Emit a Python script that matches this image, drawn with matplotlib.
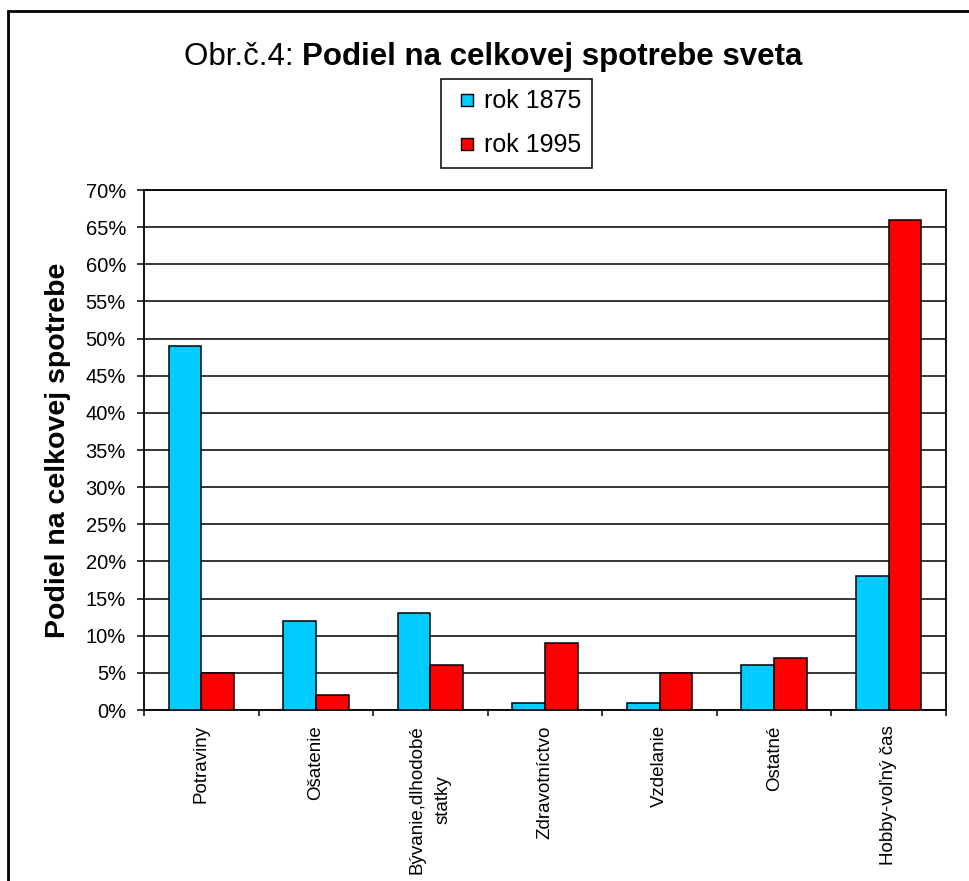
import numpy as np
import matplotlib
matplotlib.use("Agg")
import matplotlib.pyplot as plt
from matplotlib.patches import Rectangle
from matplotlib.lines import Line2D
from matplotlib.ticker import FuncFormatter, FixedLocator

plt.rcParams["font.family"] = ["Liberation Sans", "DejaVu Sans"]

categories = [
    "Potraviny",
    "Ošatenie",
    "Bývanie,dlhodobé\nstatky",
    "Zdravotníctvo",
    "Vzdelanie",
    "Ostatné",
    "Hobby-voľný čas",
]
rok_1875 = [0.49, 0.12, 0.13, 0.01, 0.01, 0.06, 0.18]
rok_1995 = [0.05, 0.02, 0.06, 0.09, 0.05, 0.07, 0.66]
series_labels = ["rok 1875", "rok 1995"]
colors = ["#00CCFF", "#FF0000"]

W, H = 970, 881
fig = plt.figure(figsize=(W / 100, H / 100), dpi=100)
ax = fig.add_axes([144 / W, 1 - 710 / H, (946 - 144) / W, (710 - 190) / H])

x = np.arange(len(categories))
w = 1 / 3.5
ax.bar(x - w / 2, rok_1875, w, color=colors[0], edgecolor="black", linewidth=1.1, zorder=3)
ax.bar(x + w / 2, rok_1995, w, color=colors[1], edgecolor="black", linewidth=1.1, zorder=3)

ax.set_xlim(-0.5, len(categories) - 0.5)
ax.set_ylim(0, 0.70)
ax.set_yticks(np.arange(0, 0.701, 0.05))
ax.yaxis.set_major_formatter(FuncFormatter(lambda v, p: f"{round(v * 100)}%"))
ax.yaxis.grid(True, color="black", linewidth=1.1)
ax.set_axisbelow(True)

# category separators as major ticks, names on minor ticks
ax.xaxis.set_major_locator(FixedLocator(np.arange(-0.5, len(categories), 1.0)))
ax.xaxis.set_major_formatter(FuncFormatter(lambda v, p: ""))
ax.set_xticks(x, minor=True)
ax.set_xticklabels(categories, minor=True, rotation=90, fontsize=13.5,
                   va="top", ha="center", multialignment="center", linespacing=1.7)
ax.tick_params(axis="x", which="minor", length=0, pad=11)
ax.tick_params(axis="x", which="major", length=4.5, width=1.1, direction="out")
ax.tick_params(axis="y", length=5, width=1.1, direction="out", labelsize=14.5, pad=8)

for s in ax.spines.values():
    s.set_linewidth(1.3)

ax.set_ylabel("Podiel na celkovej spotrebe", fontsize=20.5, fontweight="bold")
ax.yaxis.set_label_coords(-0.091, 0.5)

handles = [Line2D([], [], linestyle="none", marker="s", markersize=8.6,
                  markerfacecolor=c, markeredgecolor="black", markeredgewidth=1)
           for c in colors]
leg = fig.legend(handles, series_labels, loc="upper left",
                 bbox_to_anchor=(441 / W, 1 - 79 / H), fontsize=18,
                 handlelength=1.22, handletextpad=0.1,
                 labelspacing=0.8, borderpad=0.42, borderaxespad=0,
                 fancybox=False, framealpha=1, edgecolor="black")
leg.get_frame().set_linewidth(1.1)

# title with mixed weights
t1 = fig.text(0, 1 - 57 / H, "Obr.č.4: ", fontsize=22.5, va="center", ha="left")
t2 = fig.text(0, 1 - 57 / H, "Podiel na celkovej spotrebe sveta", fontsize=22.5,
              fontweight="bold", va="center", ha="left")
fig.canvas.draw()
r = fig.canvas.get_renderer()
w1 = t1.get_window_extent(r).width
w2 = t2.get_window_extent(r).width
start = 493 - (w1 + w2) / 2
t1.set_x(start / W)
t2.set_x((start + w1) / W)

fig.add_artist(Rectangle((8 / W, -0.1), 1.2, 1.1 - 11 / H, transform=fig.transFigure,
                         fill=False, edgecolor="black", linewidth=2))

fig.savefig("out.png", dpi=100)
